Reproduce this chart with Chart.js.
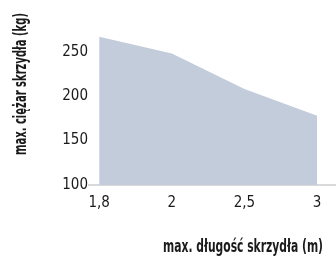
<!DOCTYPE html>
<html>
<head>
<meta charset="utf-8">
<script src="https://cdn.jsdelivr.net/npm/chart.js@4"></script>
<style>
  html, body { margin: 0; padding: 0; background: #fff; }
  #wrap { width: 336px; height: 263px; }
</style>
</head>
<body>
<div id="wrap"><canvas id="wingChart"></canvas></div>
<script>
const lengths = ["1,8", "2", "2,5", "3"];
const maxWeight = [267, 248, 208, 178];
const yTicks = [100, 150, 200, 250];

const FONT = "'Liberation Sans Narrow', 'DejaVu Sans Condensed', 'Roboto', sans-serif";

// tytuły osi rysowane ręcznie (ściśnięte w poziomie jak w oryginale)
function squeezedText(c, text, cx, cy, width) {
  const w = c.measureText(text).width;
  c.save();
  c.translate(cx, cy);
  c.scale(width / w, 1);
  c.fillText(text, 0, 0);
  c.restore();
}

const axisTitles = {
  id: "axisTitles",
  afterDraw(chart) {
    const c = chart.ctx;
    c.save();
    c.fillStyle = "#1a1a1a";
    c.font = "bold 18px " + FONT;
    c.textBaseline = "middle";
    c.textAlign = "center";
    squeezedText(c, "max. długość skrzydła (m)", 243, 247, 160);
    c.translate(21, 84);
    c.rotate(-Math.PI / 2);
    squeezedText(c, "max. ciężar skrzydła (kg)", 0, 0, 142);
    c.restore();
  },
};

new Chart(document.getElementById("wingChart").getContext("2d"), {
  type: "line",
  data: {
    datasets: [
      {
        data: maxWeight.map((v, i) => ({ x: i, y: v })),
        fill: "start",
        backgroundColor: "#c2ccdb",
        borderWidth: 0,
        pointRadius: 0,
        tension: 0,
      },
    ],
  },
  options: {
    responsive: true,
    maintainAspectRatio: false,
    animation: false,
    layout: { padding: { top: 34, right: 0, bottom: 42, left: 0 } },
    plugins: { legend: { display: false }, tooltip: { enabled: false } },
    scales: {
      x: {
        type: "linear",
        min: -0.14,
        max: 3.26,
        afterBuildTicks: (s) => { s.ticks = lengths.map((_, i) => ({ value: i })); },
        grid: { display: false, drawTicks: false },
        border: { display: true, color: "#d9d9d9", width: 2 },
        ticks: {
          callback: (v) => lengths[v],
          color: "#1a1a1a",
          font: { family: FONT, size: 15 },
          padding: 9,
          maxRotation: 0,
          autoSkip: false,
        },
      },
      y: {
        min: 100,
        max: 270,
        afterBuildTicks: (s) => { s.ticks = yTicks.map((v) => ({ value: v })); },
        afterFit: (s) => { s.width = 89; },
        grid: { display: false, drawTicks: false },
        border: { display: false },
        ticks: {
          color: "#1a1a1a",
          font: { family: FONT, size: 15 },
          padding: 1,
        },
      },
    },
  },
  plugins: [axisTitles],
});
</script>
</body>
</html>
